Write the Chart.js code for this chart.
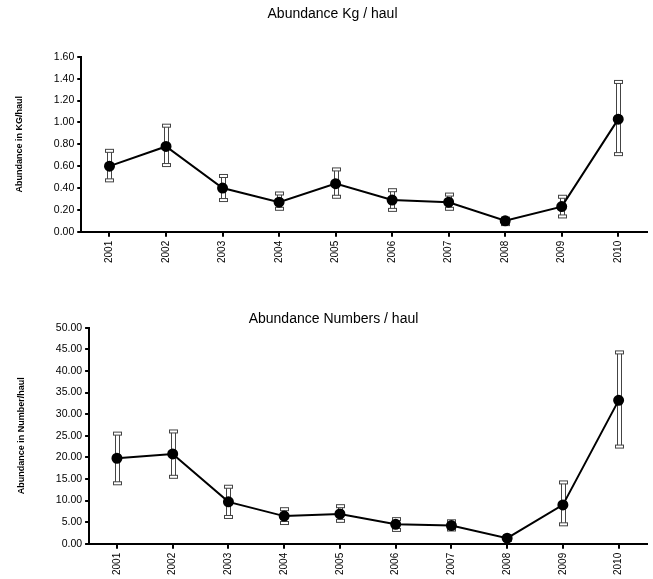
<!DOCTYPE html>
<html><head>
<script src="https://cdn.jsdelivr.net/npm/chart.js@4/dist/chart.umd.min.js"></script>
<style>
body{margin:0;background:#fff;width:653px;height:579px;position:relative;overflow:hidden}
.box{position:absolute;left:0;width:653px}
</style></head><body>
<div class="box" style="top:0;height:292px"><canvas id="c1"></canvas></div>
<div class="box" style="top:292px;height:287px"><canvas id="c2"></canvas></div>
<script>
const years = ["2001","2002","2003","2004","2005","2006","2007","2008","2009","2010"];
const kgMean = [0.60, 0.78, 0.40, 0.27, 0.44, 0.29, 0.27, 0.10, 0.23, 1.03];
const kgLow  = [0.47, 0.61, 0.29, 0.21, 0.32, 0.20, 0.21, 0.07, 0.14, 0.71];
const kgHigh = [0.74, 0.97, 0.51, 0.35, 0.57, 0.38, 0.34, 0.12, 0.32, 1.37];
const numMean = [19.8, 20.8, 9.7, 6.4, 6.9, 4.5, 4.2, 1.3, 9.0, 33.2];
const numLow  = [14.0, 15.5, 6.2, 4.8, 5.3, 3.2, 3.3, 0.9, 4.5, 22.5];
const numHigh = [25.5, 26.0, 13.2, 8.0, 8.7, 5.7, 5.2, 1.6, 14.2, 44.3];

const errorBars = {
  id: "errorBars",
  beforeDatasetsDraw(chart, args, opts) {
    const { ctx, scales: { x, y } } = chart;
    ctx.save();
    ctx.strokeStyle = "#444";
    ctx.lineWidth = 1;
    opts.low.forEach((lo, i) => {
      const px = Math.round(x.getPixelForValue(i)) + 0.5;
      const yl = y.getPixelForValue(lo);
      const yh = y.getPixelForValue(opts.high[i]);
      ctx.fillStyle = "#fff";
      ctx.strokeRect(px - 2, yh, 4, yl - yh);
      ctx.fillRect(px - 4, yh - 1.5, 8, 3);
      ctx.strokeRect(px - 4, yh - 1.5, 8, 3);
      ctx.fillRect(px - 4, yl - 1.5, 8, 3);
      ctx.strokeRect(px - 4, yl - 1.5, 8, 3);
    });
    ctx.restore();
  },
};

Chart.defaults.font.family = "'Liberation Sans', Arial, sans-serif";
Chart.defaults.color = "#000";

function makeChart(id, title, yTitle, mean, low, high, max, step, pad, titlePad) {
  new Chart(document.getElementById(id), {
    type: "line",
    data: {
      labels: years,
      datasets: [{
        data: mean,
        borderColor: "#000",
        backgroundColor: "#000",
        borderWidth: 2,
        pointRadius: 4.5,
        pointHoverRadius: 4.5,
        tension: 0,
      }],
    },
    plugins: [errorBars],
    options: {
      animation: false,
      maintainAspectRatio: false,
      layout: { padding: pad },
      plugins: {
        legend: { display: false },
        tooltip: { enabled: false },
        title: { display: true, text: title, font: { size: 14, weight: "normal" }, padding: titlePad },
        errorBars: { low, high },
      },
      scales: {
        x: {
          offset: true,
          grid: { display: true, drawOnChartArea: false, tickLength: 5, color: "#000", lineWidth: 2 },
          border: { color: "#000", width: 2 },
          ticks: { minRotation: 90, maxRotation: 90, font: { size: 10 }, padding: 4 },
        },
        y: {
          min: 0, max,
          grid: { display: true, drawOnChartArea: false, tickLength: 4, color: "#000", lineWidth: 2 },
          border: { color: "#000", width: 2 },
          ticks: { stepSize: step, font: { size: 10.5 }, padding: 3, callback: (v) => v.toFixed(2) },
          title: { display: true, text: yTitle, font: { size: 9, weight: "bold" }, padding: { top: 0, bottom: 26 } },
        },
      },
    },
  });
}

makeChart("c1", "Abundance Kg / haul", "Abundance in KG/haul", kgMean, kgLow, kgHigh, 1.6, 0.2,
  { top: 6, right: 2, left: 14, bottom: 25 }, { top: 0, bottom: 34 });
makeChart("c2", "Abundance Numbers / haul", "Abundance in Number/haul", numMean, numLow, numHigh, 50, 5,
  { top: 19, right: 2, left: 16, bottom: 0 }, { top: 0, bottom: 0 });
</script>
</body></html>
